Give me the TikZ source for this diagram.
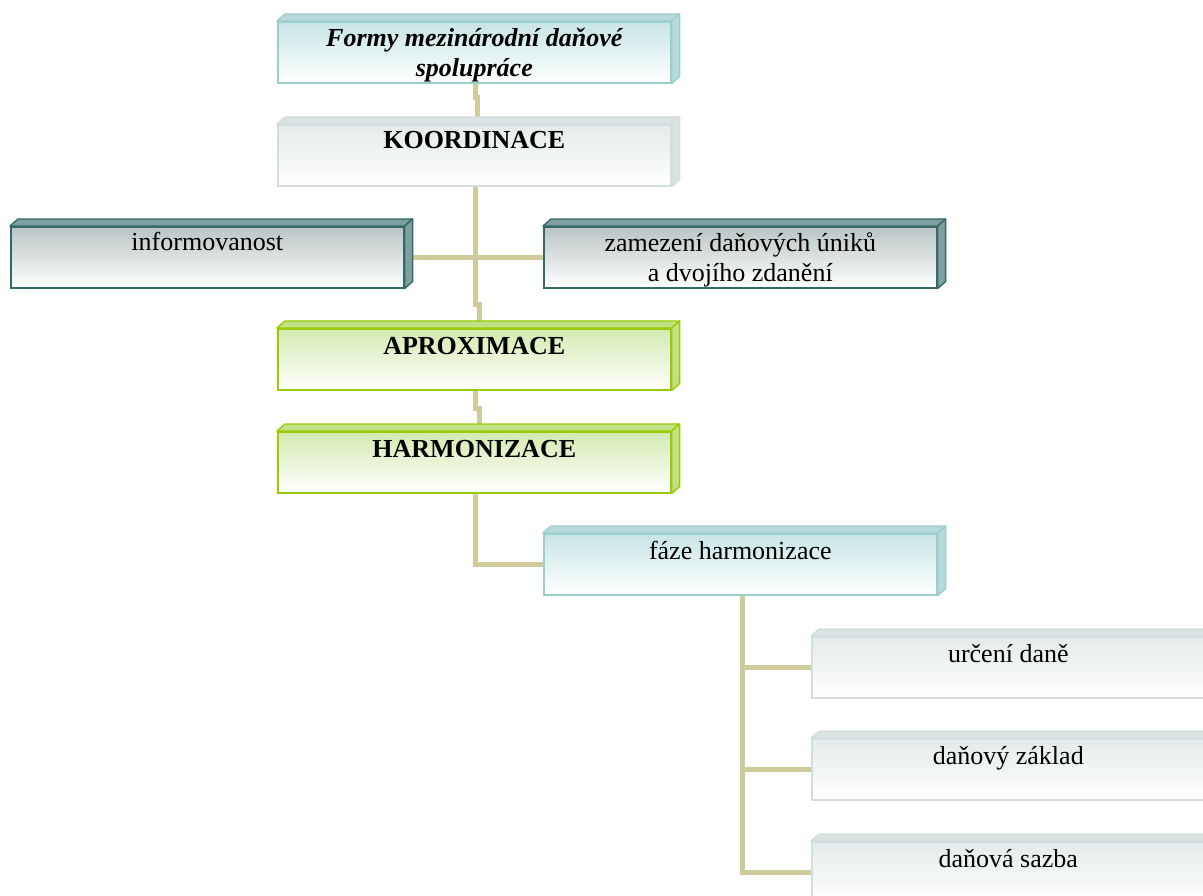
\documentclass[tikz,border=0pt]{standalone}
\usepackage{fontspec}
\setmainfont{Liberation Serif}
\definecolor{conn}{RGB}{206,204,155}
\definecolor{tealB}{RGB}{156,206,206}
\definecolor{tealT}{RGB}{200,229,229}
\definecolor{tealS}{RGB}{182,218,218}
\definecolor{grayB}{RGB}{212,222,222}
\definecolor{grayT}{RGB}{228,234,234}
\definecolor{grayS}{RGB}{218,226,226}
\definecolor{darkB}{RGB}{54,104,104}
\definecolor{darkT}{RGB}{186,196,196}
\definecolor{darkS}{RGB}{128,160,160}
\definecolor{grnB}{RGB}{153,204,0}
\definecolor{grnT}{RGB}{212,234,176}
\definecolor{grnS}{RGB}{194,224,136}
\newcommand{\mkdepth}[3]{%
  \fill[#2,draw=#3,line width=1.4pt,line join=round] (#1.north west) -- ++(8,-7) -- ([shift={(8,-7)}]#1.north east) -- (#1.north east) -- cycle;
  \fill[#2,draw=#3,line width=1.4pt,line join=round] (#1.north east) -- ++(8,-7) -- ([shift={(8,-7)}]#1.south east) -- (#1.south east) -- cycle;
}
\begin{document}
\begin{tikzpicture}[x=1pt,y=-1pt,
  frontbox/.style={rectangle,inner sep=0pt,minimum width=393pt,minimum height=61pt,anchor=north west,line width=1.6pt},
  tealbox/.style={frontbox,draw=tealB,top color=tealT,bottom color=white},
  graybox/.style={frontbox,draw=grayB,top color=grayT,bottom color=white},
  darkbox/.style={frontbox,draw=darkB,top color=darkT,bottom color=white},
  grnbox/.style={frontbox,draw=grnB,top color=grnT,bottom color=white},
  lbl/.style={inner sep=0pt,anchor=base,font=\fontsize{26}{29.5}\selectfont,text=black},
  connector/.style={draw=conn,line width=5pt}
]
\useasboundingbox (0,0) rectangle (1203,896);

% front faces (positions)
\path
  (277,21) coordinate (p-formy)
  (277,124) coordinate (p-koord)
  (10,226) coordinate (p-info)
  (543,226) coordinate (p-zam)
  (277,328) coordinate (p-aprox)
  (277,431) coordinate (p-harm)
  (543,533) coordinate (p-faze)
  (811,636) coordinate (p-r1)
  (811,738) coordinate (p-r2)
  (811,841) coordinate (p-r3);

% invisible anchors for connectors (same geometry as boxes)
\node[frontbox] (formy) at (p-formy) {};
\node[frontbox] (koord) at (p-koord) {};
\node[frontbox] (info) at (p-info) {};
\node[frontbox] (zam) at (p-zam) {};
\node[frontbox] (aprox) at (p-aprox) {};
\node[frontbox] (harm) at (p-harm) {};
\node[frontbox] (faze) at (p-faze) {};
\node[frontbox] (r1) at (p-r1) {};
\node[frontbox] (r2) at (p-r2) {};
\node[frontbox] (r3) at (p-r3) {};

% connectors
\draw[connector] ([xshift=1pt]formy.south) -- ++(0,14) -| ([xshift=3pt]koord.north);
\draw[connector] ([xshift=1pt]koord.south) -- ++(0,118) -| ([xshift=5pt]aprox.north);
\draw[connector] (info.east) -- (zam.west);
\draw[connector] ([xshift=1pt]aprox.south) -- ++(0,18) -| ([xshift=5pt]harm.north);
\draw[connector] ([xshift=1pt]harm.south) |- (faze.west);
\draw[connector] ([xshift=2pt]faze.south) |- (r1.west);
\draw[connector] ([xshift=2pt]faze.south) |- (r2.west);
\draw[connector] ([xshift=2pt]faze.south) |- (r3.west);

% boxes
\node[tealbox] (formy-f) at (p-formy) {};
\mkdepth{formy-f}{tealS}{tealB}
\node[graybox] (koord-f) at (p-koord) {};
\mkdepth{koord-f}{grayS}{grayB}
\node[darkbox] (info-f) at (p-info) {};
\mkdepth{info-f}{darkS}{darkB}
\node[darkbox] (zam-f) at (p-zam) {};
\mkdepth{zam-f}{darkS}{darkB}
\node[grnbox] (aprox-f) at (p-aprox) {};
\mkdepth{aprox-f}{grnS}{grnB}
\node[grnbox] (harm-f) at (p-harm) {};
\mkdepth{harm-f}{grnS}{grnB}
\node[tealbox] (faze-f) at (p-faze) {};
\mkdepth{faze-f}{tealS}{tealB}
\node[graybox] (r1-f) at (p-r1) {};
\mkdepth{r1-f}{grayS}{grayB}
\node[graybox] (r2-f) at (p-r2) {};
\mkdepth{r2-f}{grayS}{grayB}
\node[graybox] (r3-f) at (p-r3) {};
\mkdepth{r3-f}{grayS}{grayB}

% texts
\node[lbl] (formy-t) at ([yshift=-26pt]formy-f.north) {\bfseries\itshape\begin{tabular}[t]{@{}c@{}}Formy mezinárodní daňové\\spolupráce\end{tabular}};
\node[lbl] (koord-t) at ([yshift=-25pt]koord-f.north) {\bfseries KOORDINACE};
\node[lbl] (info-t) at ([yshift=-25pt]info-f.north) {informovanost};
\node[lbl] (zam-t) at ([yshift=-26pt]zam-f.north) {\begin{tabular}[t]{@{}c@{}}zamezení daňových úniků\\a dvojího zdanění\end{tabular}};
\node[lbl] (aprox-t) at ([yshift=-26pt]aprox-f.north) {\bfseries APROXIMACE};
\node[lbl] (harm-t) at ([yshift=-26pt]harm-f.north) {\bfseries HARMONIZACE};
\node[lbl] (faze-t) at ([yshift=-26pt]faze-f.north) {fáze harmonizace};
\node[lbl] (r1-t) at ([yshift=-26pt]r1-f.north) {určení daně};
\node[lbl] (r2-t) at ([yshift=-26pt]r2-f.north) {daňový základ};
\node[lbl] (r3-t) at ([yshift=-26pt]r3-f.north) {daňová sazba};
\end{tikzpicture}
\end{document}
